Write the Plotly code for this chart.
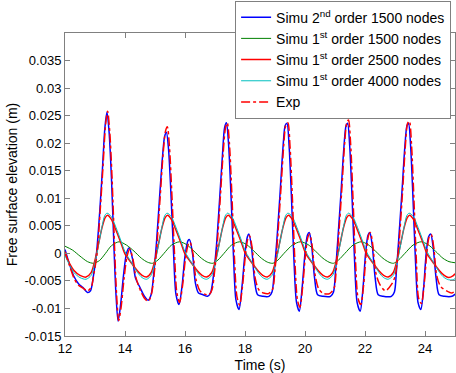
import plotly.graph_objects as go

# ---------------- data ----------------
t_blue = [12.0, 12.15, 12.3, 12.45, 12.6, 12.75, 12.85, 12.95, 13.05, 13.15, 13.25, 13.33, 13.4, 13.47, 13.55, 13.64, 13.7, 13.77, 13.85, 13.95,
          14.05, 14.14, 14.25, 14.35, 14.5, 14.65, 14.77, 14.87, 14.97, 15.05, 15.15, 15.25, 15.32, 15.38, 15.45, 15.53, 15.62, 15.7, 15.8, 15.9,
          16.0, 16.1, 16.15, 16.25, 16.35, 16.45, 16.6, 16.75, 16.85, 16.95, 17.05, 17.15, 17.25, 17.32, 17.38, 17.45, 17.53, 17.62, 17.7, 17.8, 17.9,
          18.0, 18.08, 18.13, 18.22, 18.32, 18.42, 18.6, 18.8, 18.9, 18.98, 19.07, 19.17, 19.27, 19.34, 19.4, 19.47, 19.55, 19.63, 19.72, 19.81, 19.9,
          20.0, 20.08, 20.14, 20.22, 20.32, 20.42, 20.6, 20.85, 20.95, 21.02, 21.1, 21.2, 21.3, 21.37, 21.42, 21.49, 21.57, 21.65, 21.74, 21.84, 21.93,
          22.02, 22.1, 22.16, 22.24, 22.34, 22.44, 22.6, 22.88, 22.98, 23.05, 23.13, 23.23, 23.33, 23.4, 23.45, 23.52, 23.6, 23.68, 23.77, 23.86, 23.95,
          24.04, 24.12, 24.19, 24.27, 24.37, 24.47, 24.65, 24.9, 25.0]
y_blue = [0.0007, -0.002, -0.0042, -0.0055, -0.0062, -0.0071, -0.0068, -0.004, 0.0, 0.007, 0.0155, 0.0228, 0.0256, 0.022, 0.0135, 0.0, -0.0075, -0.0123, -0.0095, -0.004,
          0.0, 0.001, -0.001, -0.0045, -0.0062, -0.0078, -0.0085, -0.0075, -0.003, 0.002, 0.010, 0.0175, 0.0212, 0.022, 0.019, 0.011, 0.0, -0.0075, -0.0093, -0.006,
          -0.0005, 0.0023, 0.0025, 0.0, -0.0055, -0.0072, -0.0075, -0.0078, -0.0072, -0.004, 0.0015, 0.0095, 0.018, 0.0228, 0.0237, 0.02, 0.011, -0.001, -0.0085, -0.0102, -0.006,
          0.0, 0.003, 0.0035, 0.001, -0.005, -0.0075, -0.0078, -0.0078, -0.007, -0.003, 0.003, 0.011, 0.0195, 0.0232, 0.0236, 0.0195, 0.01, -0.001, -0.009, -0.0105, -0.0065,
          0.0, 0.0033, 0.0038, 0.0015, -0.0045, -0.0075, -0.0078, -0.0078, -0.007, -0.003, 0.003, 0.011, 0.0195, 0.0232, 0.0236, 0.0195, 0.01, -0.001, -0.009, -0.0105, -0.0065,
          0.0, 0.0033, 0.0038, 0.0015, -0.0045, -0.0075, -0.0078, -0.0078, -0.007, -0.003, 0.003, 0.011, 0.0195, 0.0232, 0.0236, 0.0195, 0.01, -0.001, -0.009, -0.0102, -0.0065,
          0.0, 0.003, 0.0035, 0.0012, -0.0045, -0.0075, -0.0078, -0.0078, -0.0074]

t_green = [12.0, 12.25, 12.5, 12.75, 12.95, 13.15, 13.35, 13.55, 13.8, 14.05, 14.3, 14.55, 14.75, 14.92, 15.1, 15.3, 15.55, 15.82, 16.05, 16.3,
           16.55, 16.75, 16.93, 17.1, 17.3, 17.55, 17.82, 18.05, 18.3, 18.55, 18.75, 18.93, 19.1, 19.3, 19.58, 19.85, 20.1, 20.35, 20.6, 20.8,
           20.95, 21.12, 21.33, 21.6, 21.87, 22.1, 22.35, 22.6, 22.8, 22.95, 23.12, 23.33, 23.6, 23.87, 24.1, 24.35, 24.6, 24.8, 25.0]
y_green = [0.0013, 0.0006, -0.0005, -0.0015, -0.0018, -0.0013, 0.0, 0.0014, 0.0021, 0.0015, 0.0004, -0.0009, -0.0016, -0.0018, -0.0012, 0.0, 0.0015, 0.0021, 0.0016, 0.0004,
           -0.0009, -0.0016, -0.0018, -0.0012, 0.0, 0.0015, 0.0021, 0.0016, 0.0004, -0.0009, -0.0016, -0.0018, -0.0012, 0.0, 0.0015, 0.0021, 0.0016, 0.0004, -0.0009, -0.0016,
           -0.0018, -0.0012, 0.0, 0.0015, 0.0021, 0.0016, 0.0004, -0.0009, -0.0016, -0.0018, -0.0012, 0.0, 0.0015, 0.0021, 0.0016, 0.0004, -0.0009, -0.0015, -0.0017]

t_red = [12.0, 12.15, 12.3, 12.5, 12.7, 12.87, 13.0, 13.12, 13.24, 13.34, 13.42, 13.54, 13.7, 13.87, 13.99, 14.22, 14.42, 14.57, 14.72, 14.87,
         15.0, 15.12, 15.24, 15.34, 15.42, 15.54, 15.7, 15.87, 15.99, 16.22, 16.42, 16.57, 16.72, 16.89, 17.02, 17.14, 17.26, 17.36, 17.44, 17.56,
         17.72, 17.89, 18.01, 18.24, 18.44, 18.59, 18.74, 18.9, 19.03, 19.15, 19.27, 19.37, 19.45, 19.57, 19.73, 19.9, 20.02, 20.25, 20.45, 20.6,
         20.75, 20.92, 21.05, 21.17, 21.29, 21.39, 21.47, 21.59, 21.75, 21.92, 22.04, 22.27, 22.47, 22.62, 22.77, 22.94, 23.07, 23.19, 23.31, 23.41,
         23.49, 23.61, 23.77, 23.94, 24.06, 24.29, 24.49, 24.64, 24.79, 24.93, 25.0]
y_red = [-0.0001, -0.0018, -0.0031, -0.0040, -0.0043, -0.0035, -0.0012, 0.0018, 0.0048, 0.0065, 0.0069, 0.0062, 0.0042, 0.0018, 0.0, -0.0018, -0.0032, -0.0040, -0.0043, -0.0035,
         -0.0012, 0.0018, 0.0048, 0.0065, 0.0069, 0.0062, 0.0042, 0.0018, 0.0, -0.0018, -0.0032, -0.0040, -0.0043, -0.0035, -0.0012, 0.0018, 0.0048, 0.0065, 0.0069, 0.0062,
         0.0042, 0.0018, 0.0, -0.0018, -0.0032, -0.0040, -0.0043, -0.0035, -0.0012, 0.0018, 0.0048, 0.0065, 0.0069, 0.0062, 0.0042, 0.0018, 0.0, -0.0018, -0.0032, -0.0040,
         -0.0043, -0.0035, -0.0012, 0.0018, 0.0048, 0.0065, 0.0069, 0.0062, 0.0042, 0.0018, 0.0, -0.0018, -0.0032, -0.0040, -0.0043, -0.0035, -0.0012, 0.0018, 0.0048, 0.0065,
         0.0069, 0.0062, 0.0042, 0.0018, 0.0, -0.0018, -0.0032, -0.0040, -0.0044, -0.0041, -0.0037]

t_cyan = [12.0, 12.15, 12.3, 12.5, 12.7, 12.87, 13.0, 13.12, 13.24, 13.32, 13.4, 13.54, 13.7, 13.87, 14.0, 14.22, 14.42, 14.57, 14.72, 14.87,
          15.0, 15.12, 15.24, 15.32, 15.4, 15.54, 15.7, 15.87, 16.0, 16.22, 16.42, 16.57, 16.72, 16.89, 17.02, 17.14, 17.26, 17.34, 17.42, 17.56,
          17.72, 17.89, 18.02, 18.24, 18.44, 18.59, 18.74, 18.9, 19.03, 19.15, 19.27, 19.35, 19.43, 19.57, 19.73, 19.9, 20.03, 20.25, 20.45, 20.6,
          20.75, 20.92, 21.05, 21.17, 21.29, 21.37, 21.45, 21.59, 21.75, 21.92, 22.05, 22.27, 22.47, 22.62, 22.77, 22.94, 23.07, 23.19, 23.31, 23.39,
          23.47, 23.61, 23.77, 23.94, 24.07, 24.29, 24.49, 24.64, 24.79, 24.93, 25.0]
y_cyan = [-0.0004, -0.0021, -0.0035, -0.0044, -0.0047, -0.0040, -0.0016, 0.0016, 0.0050, 0.0068, 0.0073, 0.0067, 0.0047, 0.0022, 0.0003, -0.0017, -0.0035, -0.0044, -0.0047, -0.0040,
          -0.0016, 0.0016, 0.0050, 0.0068, 0.0073, 0.0067, 0.0047, 0.0022, 0.0003, -0.0017, -0.0035, -0.0044, -0.0047, -0.0040, -0.0016, 0.0016, 0.0050, 0.0068, 0.0073, 0.0067,
          0.0047, 0.0022, 0.0003, -0.0017, -0.0035, -0.0044, -0.0047, -0.0040, -0.0016, 0.0016, 0.0050, 0.0068, 0.0073, 0.0067, 0.0047, 0.0022, 0.0003, -0.0017, -0.0035, -0.0044,
          -0.0047, -0.0040, -0.0016, 0.0016, 0.0050, 0.0068, 0.0073, 0.0067, 0.0047, 0.0022, 0.0003, -0.0017, -0.0035, -0.0044, -0.0047, -0.0040, -0.0016, 0.0016, 0.0050, 0.0068,
          0.0073, 0.0067, 0.0047, 0.0022, 0.0003, -0.0017, -0.0035, -0.0044, -0.0048, -0.0048, -0.0046]

t_exp = [12.0, 12.15, 12.3, 12.45, 12.6, 12.75, 12.87, 12.97, 13.07, 13.17, 13.27, 13.35, 13.42, 13.49, 13.57, 13.66, 13.72, 13.79, 13.87, 13.97,
         14.07, 14.16, 14.27, 14.37, 14.52, 14.67, 14.78, 14.89, 14.99, 15.07, 15.17, 15.27, 15.35, 15.41, 15.48, 15.56, 15.65, 15.73, 15.82, 15.92,
         16.02, 16.12, 16.17, 16.27, 16.37, 16.5, 16.65, 16.8, 16.9, 16.98, 17.07, 17.17, 17.27, 17.35, 17.41, 17.48, 17.56, 17.65, 17.73, 17.82, 17.92,
         18.02, 18.1, 18.15, 18.24, 18.34, 18.46, 18.62, 18.78, 18.92, 19.0, 19.09, 19.19, 19.29, 19.36, 19.43, 19.5, 19.58, 19.66, 19.75, 19.83, 19.92,
         20.02, 20.1, 20.16, 20.24, 20.34, 20.46, 20.62, 20.82, 20.97, 21.04, 21.12, 21.22, 21.32, 21.39, 21.45, 21.52, 21.6, 21.68, 21.77, 21.86, 21.95,
         22.04, 22.12, 22.18, 22.26, 22.36, 22.48, 22.68, 22.9, 23.0, 23.07, 23.15, 23.25, 23.35, 23.42, 23.48, 23.55, 23.63, 23.71, 23.79, 23.88, 23.97,
         24.06, 24.14, 24.21, 24.29, 24.39, 24.52, 24.72, 24.9, 25.0]
y_exp = [0.0003, -0.0022, -0.0045, -0.0058, -0.0063, -0.0068, -0.0062, -0.0035, 0.0, 0.0075, 0.016, 0.0232, 0.0258, 0.0222, 0.0135, 0.0, -0.0075, -0.0122, -0.0098, -0.0045,
         -0.0005, 0.0008, -0.0012, -0.0045, -0.0068, -0.0083, -0.0087, -0.0072, -0.0028, 0.002, 0.010, 0.018, 0.0222, 0.023, 0.0195, 0.011, 0.0, -0.0072, -0.0089, -0.0058,
         -0.0008, 0.0018, 0.0020, -0.0002, -0.0048, -0.0068, -0.0074, -0.0075, -0.0066, -0.0036, 0.0015, 0.0095, 0.018, 0.0228, 0.0237, 0.02, 0.011, -0.001, -0.0078, -0.0094, -0.0058,
         0.0, 0.0028, 0.0032, 0.001, -0.0045, -0.0066, -0.0072, -0.0073, -0.0065, -0.003, 0.003, 0.011, 0.0195, 0.0232, 0.0237, 0.0195, 0.01, -0.001, -0.0085, -0.0098, -0.0062,
         0.0, 0.003, 0.0035, 0.0013, -0.004, -0.0065, -0.0073, -0.0073, -0.0063, -0.003, 0.003, 0.011, 0.0198, 0.0236, 0.0242, 0.02, 0.01, -0.001, -0.0082, -0.0093, -0.006,
         0.0, 0.0033, 0.0038, 0.0015, -0.0035, -0.0055, -0.0068, -0.0055, -0.0042, -0.0018, 0.003, 0.011, 0.0198, 0.0236, 0.024, 0.0198, 0.01, -0.001, -0.0082, -0.0091, -0.0058,
         0.0, 0.003, 0.0034, 0.0012, -0.004, -0.006, -0.0068, -0.0072, -0.0068]

names = ["Simu 2<sup>nd</sup> order 1500 nodes", "Simu 1<sup>st</sup> order 1500 nodes",
         "Simu 1<sup>st</sup> order 2500 nodes", "Simu 1<sup>st</sup> order 4000 nodes", "Exp"]

x_ticks = [12, 14, 16, 18, 20, 22, 24]
y_ticks = [-0.015, -0.01, -0.005, 0, 0.005, 0.01, 0.015, 0.02, 0.025, 0.03, 0.035]
y_ticktext = ["-0.015", "-0.01", "-0.005", "0", "0.005", "0.01", "0.015", "0.02", "0.025", "0.03", "0.035"]

# ---------------- figure ----------------
fig = go.Figure()
series = [
    (t_blue, y_blue, "#0000FF", 1.5, "solid"),
    (t_green, y_green, "#008000", 1.0, "solid"),
    (t_red, y_red, "#FF0000", 1.5, "solid"),
    (t_cyan, y_cyan, "#00BFBF", 1.0, "solid"),
    (t_exp, y_exp, "#FF0000", 1.5, "dashdot"),
]
for (tx, ty, col, w, dash), nm in zip(series, names):
    fig.add_trace(go.Scatter(x=tx, y=ty, mode="lines", name=nm,
                             line=dict(color=col, width=w, dash=dash, shape="spline", smoothing=0.8)))

axis_common = dict(showline=True, linecolor="#808080", linewidth=1, mirror="ticks",
                   ticks="inside", ticklen=5, tickcolor="#808080", showgrid=False,
                   zeroline=False, tickfont=dict(size=13, color="black"))

fig.update_layout(
    width=456, height=373,
    margin=dict(l=65, r=1, t=28, b=37),
    paper_bgcolor="white", plot_bgcolor="white",
    font=dict(family="Liberation Sans, Arial, sans-serif", size=13, color="black"),
    showlegend=True,
    legend=dict(x=0.99, xanchor="right", y=1.107, yanchor="top",
                bordercolor="#808080", borderwidth=1, bgcolor="white",
                font=dict(size=14), tracegroupgap=0, itemwidth=30),
    xaxis=dict(range=[12, 25], tickvals=x_ticks, ticktext=[str(v) for v in x_ticks],
               title=dict(text="Time (s)", standoff=6, font=dict(size=14)), **axis_common),
    yaxis=dict(range=[-0.015, 0.04], tickvals=y_ticks, ticktext=y_ticktext,
               title=dict(text="Free surface elevation (m)", standoff=3, font=dict(size=14)), **axis_common),
)

fig.write_html("out.html")
